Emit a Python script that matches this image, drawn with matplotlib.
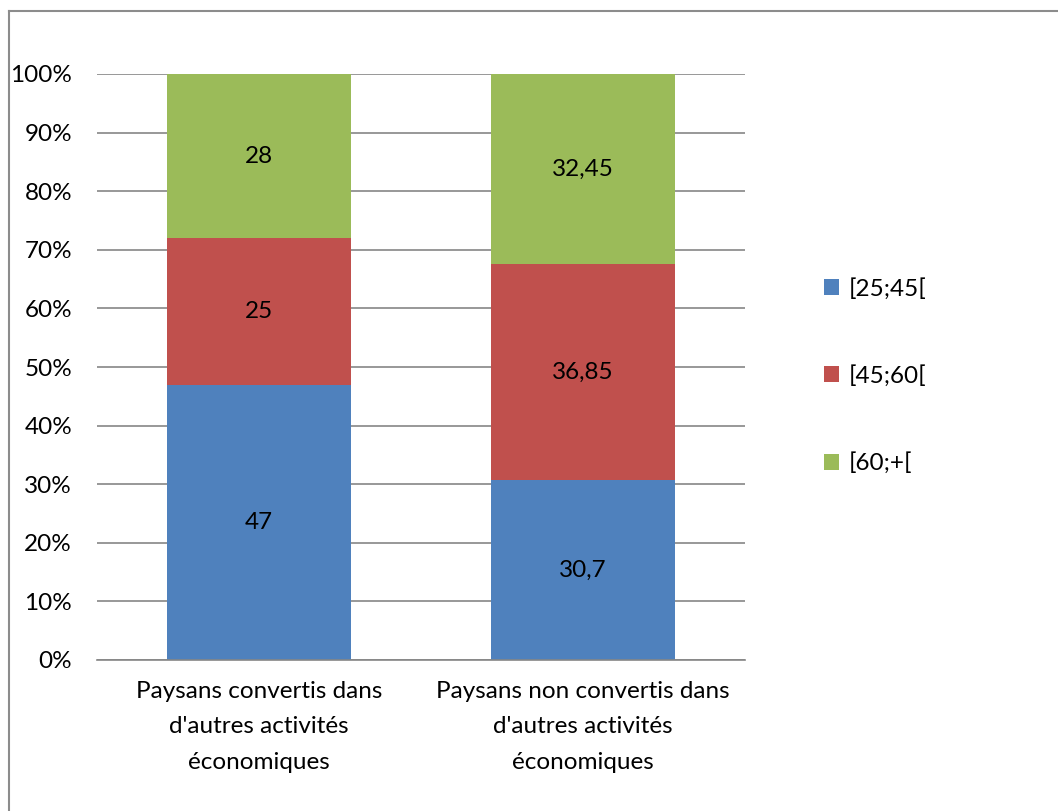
import matplotlib.pyplot as plt
from matplotlib.lines import Line2D
from matplotlib.patches import Patch

plt.rcParams['font.family'] = ['Lato', 'DejaVu Sans']

categories = ["Paysans convertis dans\nd'autres activités\néconomiques",
              "Paysans non convertis dans\nd'autres activités\néconomiques"]
series_names = ["[25;45[", "[45;60[", "[60;+["]
age_25_45 = [47, 30.7]
age_45_60 = [25, 36.85]
age_60_plus = [28, 32.45]
yticks = [0, 10, 20, 30, 40, 50, 60, 70, 80, 90, 100]

colors = ["#4F81BD", "#C0504D", "#9BBB59"]
grid_col = "#868686"
FS = 17.5

W, H = 1058, 811
fig = plt.figure(figsize=(W / 100, H / 100), dpi=100)
ax = fig.add_axes([97 / W, 1 - 660 / H, (745 - 97) / W, (660 - 74) / H])

x = list(range(len(categories)))
bottom = [0.0] * len(categories)
tot = [a + b + d for a, b, d in zip(age_25_45, age_45_60, age_60_plus)]
for name, vals, c in zip(series_names, [age_25_45, age_45_60, age_60_plus], colors):
    pct = [v / t * 100 for v, t in zip(vals, tot)]
    ax.bar(x, pct, width=0.565, bottom=bottom, color=c, label=name, zorder=2)
    for xi, p, b, v in zip(x, pct, bottom, vals):
        ax.text(xi, b + p / 2, f"{v:g}".replace(".", ","), ha="center",
                va="center", fontsize=FS, color="black", zorder=3)
    bottom = [b + p for b, p in zip(bottom, pct)]

ax.set_xlim(-0.5, 1.5)
ax.set_ylim(0, 100)
ax.set_yticks(yticks)
ax.set_yticklabels([f"{t}%" for t in yticks], fontsize=FS)
ax.set_xticks(x)
ax.set_xticklabels(categories, fontsize=FS, linespacing=1.85)
ax.tick_params(axis="both", length=0)
ax.tick_params(axis="y", pad=18)
ax.tick_params(axis="x", pad=15)
ax.yaxis.grid(True, color=grid_col, linewidth=1.2, zorder=0)
ax.set_axisbelow(True)
for s in ["top", "right", "left"]:
    ax.spines[s].set_visible(False)
ax.spines["bottom"].set_color(grid_col)
ax.spines["bottom"].set_linewidth(1.2)

handles = [Patch(facecolor=c) for c in colors]
fig.legend(handles, series_names, loc="center left",
           bbox_to_anchor=(802 / W, 1 - 376 / H), frameon=False,
           fontsize=FS, handlelength=0.62, handleheight=0.62,
           handletextpad=0.4, labelspacing=2.7)

# chart border (only top and left edges visible)
fig.add_artist(Line2D([9 / W, 9 / W], [0, 1 - 11 / H], color="#8C8C8C",
                      linewidth=1.5, transform=fig.transFigure))
fig.add_artist(Line2D([9 / W, 1], [1 - 11 / H, 1 - 11 / H], color="#8C8C8C",
                      linewidth=1.5, transform=fig.transFigure))

fig.savefig("out.png", dpi=100, facecolor="white")
